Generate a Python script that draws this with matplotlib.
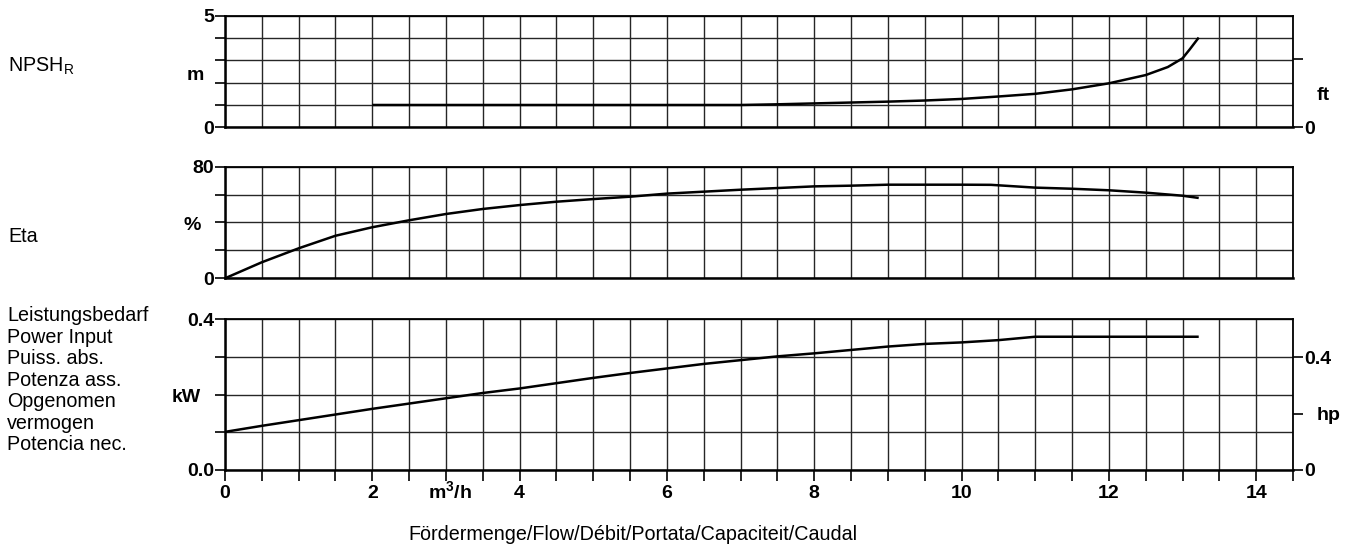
import numpy as np
import matplotlib
matplotlib.use("Agg")
import matplotlib.pyplot as plt

plt.rcParams['font.family'] = ['Liberation Sans', 'DejaVu Sans']

# pump curve readings, flow in m3/h
flow_npsh = [2, 4, 6, 7, 7.5, 8, 8.5, 9, 9.5, 10, 10.5, 11, 11.5, 12, 12.5, 12.8, 13, 13.1, 13.22]
npsh = [1.0, 1.0, 1.0, 1.0, 1.03, 1.07, 1.11, 1.15, 1.2, 1.27, 1.38, 1.5, 1.7, 1.97, 2.34, 2.7, 3.09, 3.5, 4.02]

flow_eta = [0, 0.5, 1, 1.5, 2, 2.5, 3, 3.5, 4, 4.5, 5, 5.5, 6, 6.5, 7, 7.5, 8, 8.5, 9, 9.5, 10, 10.4,
            11, 11.5, 12, 12.5, 13, 13.22]
eta = [0, 11.5, 21.5, 30.5, 36.6, 41.6, 46.1, 49.7, 52.5, 54.9, 56.8, 58.5, 60.7, 62.1, 63.5, 64.7, 65.9,
       66.4, 67.1, 67.1, 67.1, 67.0, 65.0, 64.2, 63.1, 61.4, 59.2, 57.6]

flow_pow = [0, 0.5, 1, 1.5, 2, 2.5, 3, 3.5, 4, 4.5, 5, 5.5, 6, 6.5, 7, 7.5, 8, 8.5, 9, 9.5, 10, 10.5, 11, 13.22]
power = [0.101, 0.117, 0.132, 0.147, 0.162, 0.176, 0.190, 0.204, 0.216, 0.230, 0.244, 0.257, 0.269, 0.281,
         0.291, 0.301, 0.309, 0.318, 0.327, 0.334, 0.338, 0.344, 0.353, 0.353]

x_labels = [0, 2, 4, 6, 8, 10, 12, 14]
M_PER_FT = 0.3048
KW_PER_HP = 0.7457

W, H = 1353, 546
fig = plt.figure(figsize=(W / 100, H / 100), dpi=100)

def px_axes(top, bottom):
    left, right = 225, 1293
    return fig.add_axes([left / W, 1 - bottom / H, (right - left) / W, (bottom - top) / H])

ax1 = px_axes(15.7, 127.3)
ax2 = px_axes(166.7, 278.3)
ax3 = px_axes(319, 470)

grid_c = '#262626'
bold = dict(fontsize=14, fontweight='bold')
REG = 14.2

def style(ax, ymax, ystep, ylabels):
    ax.set_xlim(0, 14.5)
    ax.set_ylim(0, ymax)
    ax.set_xticks(np.arange(0, 14.51, 0.5))
    ax.set_yticks(np.arange(0, ymax + ystep / 2, ystep))
    ax.grid(True, color=grid_c, lw=1.0)
    ax.set_axisbelow(True)
    ax.tick_params(axis='y', direction='out', length=7, width=1.2, color='black', pad=1)
    ax.tick_params(axis='x', length=0)
    ax.set_xticklabels([])
    labs = [''] * len(ax.get_yticks())
    labs[0], labs[-1] = ylabels
    ax.set_yticklabels(labs, **bold)
    for s in ['left', 'bottom']:
        ax.spines[s].set_linewidth(1.8)
    for s in ['top', 'right']:
        ax.spines[s].set_linewidth(1.3)

style(ax1, 5, 1, ['0', '5'])
style(ax2, 80, 20, ['0', '80'])
style(ax3, 0.4, 0.1, ['0.0', '0.4'])

ax1.plot(flow_npsh, npsh, color='black', lw=1.8, solid_capstyle='butt')
ax2.plot(flow_eta, eta, color='black', lw=1.8, solid_capstyle='butt')
ax3.plot(flow_pow, power, color='black', lw=1.8, solid_capstyle='butt')

# bottom flow axis
ax3.tick_params(axis='x', direction='out', length=8, width=1.2, color='black', pad=3)
ax3.set_xticklabels([f'{v:g}' if v in x_labels else '' for v in ax3.get_xticks()], **bold)

# secondary unit axes
ft = ax1.twinx()
ft.set_ylim(0, 5 / M_PER_FT)
ft.set_yticks([0, 10])
ft.set_yticklabels(['0', ''], **bold)
ft.tick_params(axis='y', direction='out', length=7, width=1.2, pad=1)
for s in ft.spines.values():
    s.set_visible(False)

hp = ax3.twinx()
hp.set_ylim(0, 0.4 / KW_PER_HP)
hp.set_yticks([0, 0.2, 0.4])
hp.set_yticklabels(['0', '', '0.4'], **bold)
hp.tick_params(axis='y', direction='out', length=7, width=1.2, pad=1)
for s in hp.spines.values():
    s.set_visible(False)

def ftext(x, y, s, **kw):
    fig.text(x / W, 1 - y / H, s, **kw)

# unit labels
ftext(195, 75, 'm', ha='center', va='center', **bold)
ftext(192, 226, '%', ha='center', va='center', **bold)
ftext(186, 398, 'kW', ha='center', va='center', **bold)
ftext(1317, 95, 'ft', ha='left', va='center', **bold)
ftext(1317, 415, 'hp', ha='left', va='center', **bold)
ftext(450, 492, r'm$^{\mathregular{3}}$/h', ha='center', va='center', **bold)

# quantity names
ftext(8, 66, r'NPSH$_{\mathregular{R}}$', ha='left', va='center', fontsize=REG)
ftext(8, 236, 'Eta', ha='left', va='center', fontsize=REG)
ftext(7, 306, 'Leistungsbedarf\nPower Input\nPuiss. abs.\nPotenza ass.\nOpgenomen\nvermogen\nPotencia nec.',
      ha='left', va='top', fontsize=REG, linespacing=1.17)
ftext(633, 535, 'Fördermenge/Flow/Débit/Portata/Capaciteit/Caudal', ha='center', va='center', fontsize=REG)

fig.savefig('out.png', dpi=100)
